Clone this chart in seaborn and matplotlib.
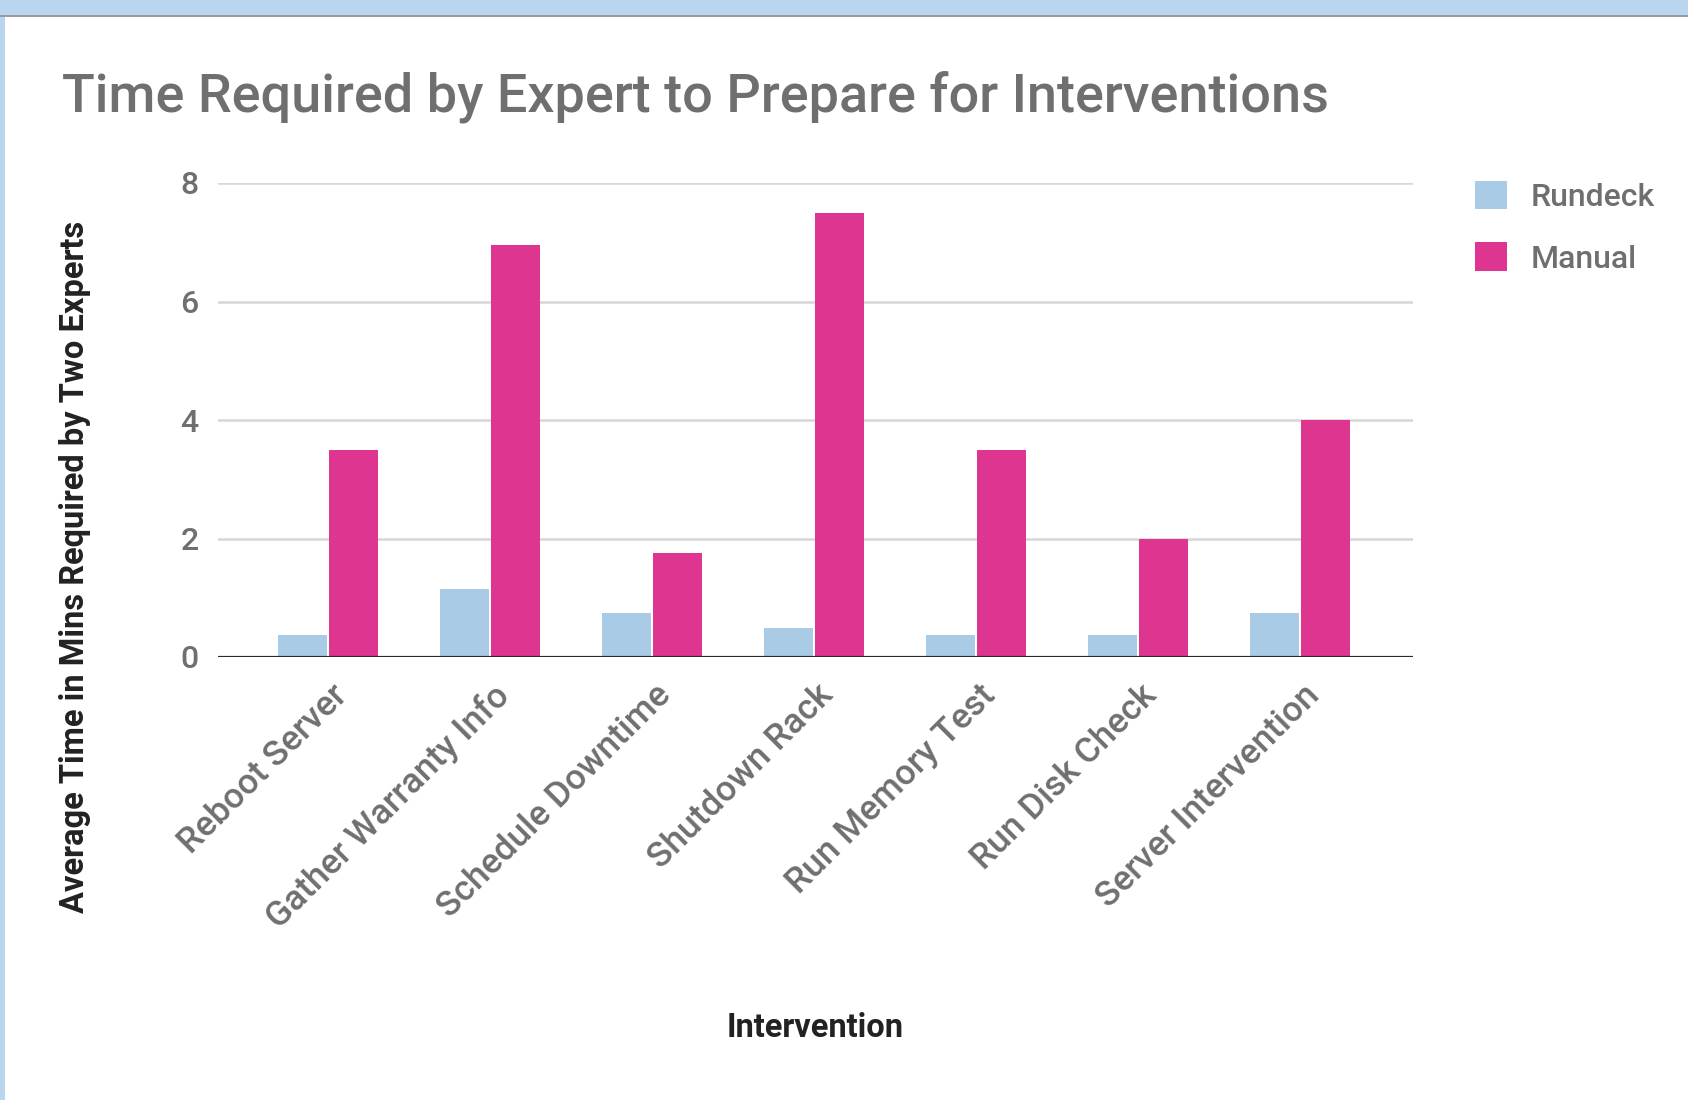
import matplotlib
matplotlib.use("Agg")
import matplotlib.pyplot as plt
import matplotlib.transforms as mtransforms
from matplotlib.patches import Rectangle
import seaborn as sns
import pandas as pd

categories = ["Reboot Server", "Gather Warranty Info", "Schedule Downtime",
              "Shutdown Rack", "Run Memory Test", "Run Disk Check",
              "Server Intervention"]
rundeck = [0.37, 1.15, 0.75, 0.49, 0.37, 0.37, 0.75]
manual = [3.5, 6.95, 1.75, 7.5, 3.5, 2.0, 4.0]
series_names = ["Rundeck", "Manual"]
yticks = [0, 2, 4, 6, 8]

title = "Time Required by Expert to Prepare for Interventions"
xlabel = "Intervention"
ylabel = "Average Time in Mins Required by Two Experts"

df = pd.DataFrame({
    "Intervention": categories * 2,
    "Series": [series_names[0]] * len(categories) + [series_names[1]] * len(categories),
    "Value": rundeck + manual,
})

sns.set_theme(style="white")
plt.rcParams["font.family"] = ["Roboto", "DejaVu Sans"]

W, H = 1688, 1100
fig = plt.figure(figsize=(W / 100, H / 100), dpi=100)
ax = fig.add_axes([218 / W, 1 - 657 / H, (1413 - 218) / W, (657 - 183) / H])

palette = {"Rundeck": "#a9cbe6", "Manual": "#de3690"}
sns.barplot(data=df, x="Intervention", y="Value", hue="Series", palette=palette,
            width=0.63, gap=0.05, ax=ax, saturation=1, legend=True,
            edgecolor="none")

ax.set_ylim(0, 8)
ax.set_xlim(-0.678, 6.698)
ax.set_yticks(yticks)
ax.set_yticklabels([str(t) for t in yticks])
ax.yaxis.grid(True, color="#d6d6d6", linewidth=1.8)
ax.set_axisbelow(True)
for s in ax.spines.values():
    s.set_visible(False)
ax.axhline(0, color="#2a2a2a", linewidth=2.3, zorder=5)

ax.tick_params(axis="y", length=0, pad=14, labelsize=23, labelcolor="#6f6f6f")
ax.tick_params(axis="x", length=0, pad=8, labelsize=25.5, labelcolor="#6f6f6f")
for lab in ax.get_yticklabels():
    lab.set_fontweight("medium")
offset = mtransforms.ScaledTranslation(14 / 100, -22 / 100, fig.dpi_scale_trans)
for lab in ax.get_xticklabels():
    lab.set_rotation(45)
    lab.set_ha("right")
    lab.set_va("center")
    lab.set_rotation_mode("anchor")
    lab.set_fontweight("medium")
    lab.set_transform(lab.get_transform() + offset)

ax.set_xlabel("")
ax.set_ylabel("")

fig.text(62 / W, 1 - 97 / H, title, fontsize=38.9, color="#6f6f6f",
         fontweight="medium", ha="left", va="center")
fig.text(815 / W, 1 - 1028 / H, xlabel, fontsize=23.5, fontweight="bold",
         color="#222222", ha="center", va="center")
fig.text(75 / W, 1 - 567 / H, ylabel, fontsize=23.5, fontweight="bold",
         color="#222222", ha="center", va="center", rotation=90)

handles, labels = ax.get_legend_handles_labels()
ax.get_legend().remove()
leg = fig.legend(handles, labels, loc="upper left",
                 bbox_to_anchor=(1462 / W, 1 - 168 / H), frameon=False,
                 fontsize=23, labelcolor="#6f6f6f", handlelength=1.0,
                 handleheight=1.0, handletextpad=0.75, labelspacing=0.95,
                 borderaxespad=0)
for t in leg.get_texts():
    t.set_fontweight("medium")

# window frame decoration
fig.patches.append(Rectangle((0, 1 - 15 / H), 1, 15 / H, transform=fig.transFigure,
                             facecolor="#bad5ee", edgecolor="none", zorder=0))
fig.patches.append(Rectangle((0, 1 - 17 / H), 1, 2 / H, transform=fig.transFigure,
                             facecolor="#9a9a9a", edgecolor="none", zorder=0))
fig.patches.append(Rectangle((0, 0), 5 / W, 1 - 17 / H, transform=fig.transFigure,
                             facecolor="#bad5ee", edgecolor="none", zorder=0))

fig.savefig("out.png", dpi=100)
